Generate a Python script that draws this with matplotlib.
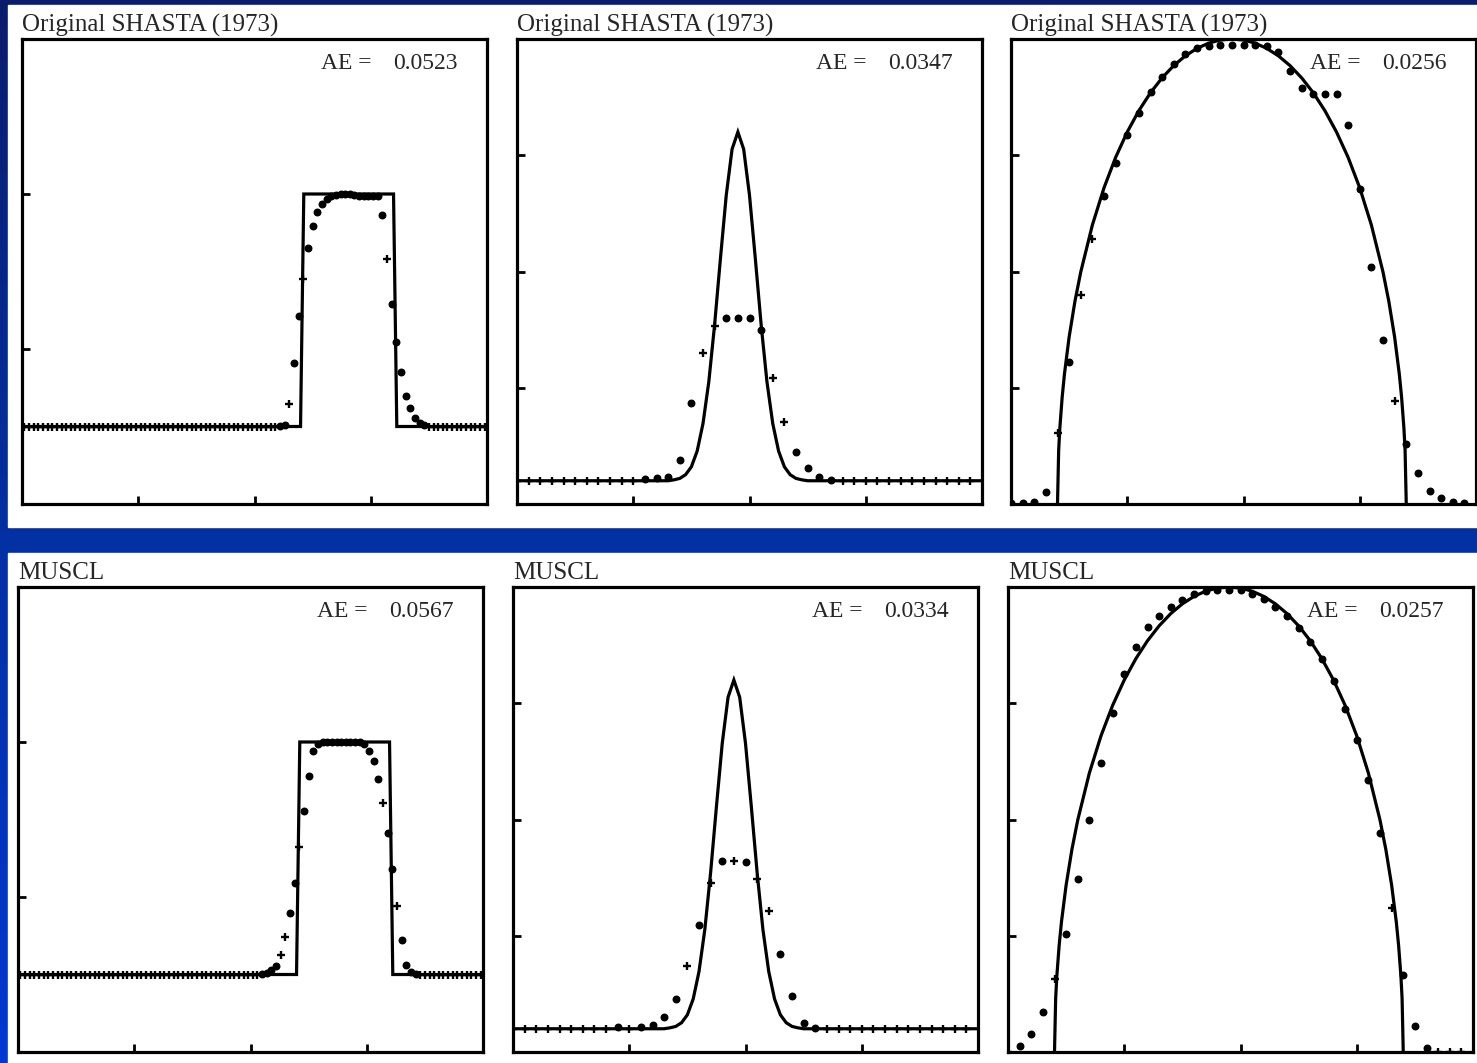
import numpy as np
import matplotlib
matplotlib.use('Agg')
import matplotlib.pyplot as plt
from matplotlib.colors import LinearSegmentedColormap
from matplotlib.patches import Rectangle

plt.rcParams['font.family'] = ['Liberation Serif', 'DejaVu Serif']

# ---------------- data ----------------
row_titles = ['Original SHASTA (1973)', 'MUSCL']
ae_values = [['0.0523', '0.0347', '0.0256'],
             ['0.0567', '0.0334', '0.0257']]

# square wave, 100 cells (x = cell index)
square_exact_x = [-0.5, 59.4, 60.1, 79.4, 80.1, 99.5]
square_exact_y = [0.5, 0.5, 2.0, 2.0, 0.5, 0.5]
shasta_square = [
    0.5, 0.5, 0.5, 0.5, 0.5, 0.5, 0.5, 0.5, 0.5, 0.5,
    0.5, 0.5, 0.5, 0.5, 0.5, 0.5, 0.5, 0.5, 0.5, 0.5,
    0.5, 0.5, 0.5, 0.5, 0.5, 0.5, 0.5, 0.5, 0.5, 0.5,
    0.5, 0.5, 0.5, 0.5, 0.5, 0.5, 0.5, 0.5, 0.5, 0.5,
    0.5, 0.5, 0.5, 0.5, 0.5, 0.5, 0.5, 0.5, 0.5, 0.5,
    0.5, 0.5, 0.5, 0.5, 0.5, 0.505, 0.51, 0.645, 0.912, 1.213,
    1.452, 1.652, 1.794, 1.884, 1.935, 1.97, 1.985, 1.995, 2.0, 2.0,
    2.0, 1.995, 1.99, 1.99, 1.99, 1.99, 1.99, 1.865, 1.583, 1.292,
    1.043, 0.85, 0.70, 0.617, 0.557, 0.521, 0.508, 0.5, 0.5, 0.5,
    0.5, 0.5, 0.5, 0.5, 0.5, 0.5, 0.5, 0.5, 0.5, 0.5]
muscl_square = [
    0.5, 0.5, 0.5, 0.5, 0.5, 0.5, 0.5, 0.5, 0.5, 0.5,
    0.5, 0.5, 0.5, 0.5, 0.5, 0.5, 0.5, 0.5, 0.5, 0.5,
    0.5, 0.5, 0.5, 0.5, 0.5, 0.5, 0.5, 0.5, 0.5, 0.5,
    0.5, 0.5, 0.5, 0.5, 0.5, 0.5, 0.5, 0.5, 0.5, 0.5,
    0.5, 0.5, 0.5, 0.5, 0.5, 0.5, 0.5, 0.5, 0.5, 0.5,
    0.5, 0.5, 0.503, 0.51, 0.528, 0.555, 0.628, 0.741, 0.897, 1.091,
    1.321, 1.556, 1.779, 1.94, 1.99, 2.0, 2.0, 2.0, 2.0, 2.0,
    2.0, 2.0, 2.0, 2.0, 1.985, 1.94, 1.876, 1.763, 1.607, 1.41,
    1.18, 0.942, 0.724, 0.561, 0.517, 0.505, 0.5, 0.5, 0.5, 0.5,
    0.5, 0.5, 0.5, 0.5, 0.5, 0.5, 0.5, 0.5, 0.5, 0.5]
shasta_square_plus = [57, 60, 78]
muscl_square_plus = [56, 57, 60, 78, 81]

# smooth pulse, 40 cells
pulse_exact_x = [0, 13, 13.5, 14, 14.5, 15, 15.5, 16, 16.5, 17, 17.5, 18, 18.5, 19,
                 19.5, 20, 20.5, 21, 21.5, 22, 22.5, 23, 23.5, 24, 24.5, 25, 40]
pulse_exact_y = [0.05, 0.05, 0.052, 0.055, 0.063, 0.08, 0.114, 0.173, 0.263, 0.386,
                 0.528, 0.664, 0.763, 0.8, 0.763, 0.664, 0.528, 0.386, 0.263, 0.173,
                 0.114, 0.08, 0.063, 0.055, 0.052, 0.05, 0.05]
shasta_pulse = [
    0.05, 0.05, 0.05, 0.05, 0.05, 0.05, 0.05, 0.05, 0.05, 0.05,
    0.05, 0.053, 0.055, 0.057, 0.095, 0.217, 0.324, 0.383, 0.399, 0.399,
    0.399, 0.374, 0.272, 0.177, 0.112, 0.077, 0.059, 0.052, 0.05, 0.05,
    0.05, 0.05, 0.05, 0.05, 0.05, 0.05, 0.05, 0.05, 0.05, 0.05]
muscl_pulse = [
    0.05, 0.05, 0.05, 0.05, 0.05, 0.05, 0.05, 0.05, 0.05, 0.053,
    0.05, 0.053, 0.058, 0.075, 0.115, 0.184, 0.273, 0.363, 0.411, 0.411,
    0.409, 0.373, 0.303, 0.21, 0.12, 0.062, 0.051, 0.05, 0.05, 0.05,
    0.05, 0.05, 0.05, 0.05, 0.05, 0.05, 0.05, 0.05, 0.05, 0.05]
shasta_pulse_plus = [16, 17, 22, 23]
muscl_pulse_plus = [15, 17, 19, 21, 22]

# half ellipse, 40 cells
ellipse_exact_x = [4, 4.1, 4.2, 4.4, 4.6, 5, 5.5, 6, 7, 8, 9, 10, 11, 12, 13, 14, 15,
                   16, 17, 18, 19, 20, 21, 22, 23, 24, 25, 26, 27, 28, 29, 30, 31,
                   32, 32.5, 33, 33.4, 33.6, 33.8, 33.9, 34]
ellipse_exact_y = [0, 0.1153, 0.1628, 0.2294, 0.28, 0.359, 0.4359, 0.4989, 0.6,
                   0.6799, 0.7454, 0.8, 0.8459, 0.8844, 0.9165, 0.9428, 0.9638,
                   0.9798, 0.9911, 0.9978, 1.0, 0.9978, 0.9911, 0.9798, 0.9638,
                   0.9428, 0.9165, 0.8844, 0.8459, 0.8, 0.7454, 0.6799, 0.6,
                   0.4989, 0.4359, 0.359, 0.28, 0.2294, 0.1628, 0.1153, 0]
shasta_ellipse = [
    0.003, 0.003, 0.004, 0.026, 0.152, 0.305, 0.449, 0.569, 0.662, 0.734,
    0.794, 0.84, 0.886, 0.919, 0.947, 0.968, 0.98, 0.985, 0.987, 0.987,
    0.987, 0.987, 0.985, 0.973, 0.932, 0.895, 0.882, 0.882, 0.882, 0.815,
    0.678, 0.51, 0.352, 0.221, 0.129, 0.066, 0.029, 0.012, 0.005, 0.002]
muscl_ellipse = [
    0.0, 0.013, 0.038, 0.085, 0.157, 0.254, 0.372, 0.499, 0.622, 0.728,
    0.813, 0.872, 0.913, 0.938, 0.958, 0.972, 0.986, 0.991, 0.994, 0.994,
    0.994, 0.986, 0.974, 0.958, 0.937, 0.912, 0.882, 0.845, 0.797, 0.738,
    0.67, 0.585, 0.47, 0.31, 0.165, 0.056, 0.008, 0.0, 0.0, 0.0]
shasta_ellipse_plus = [4, 6, 7, 33]
muscl_ellipse_plus = [4, 33]

# ---------------- layout ----------------
W, H = 1477, 1063
fig = plt.figure(figsize=(W / 100, H / 100), dpi=100)

# blue slide background with two white bands
bg = fig.add_axes([0, 0, 1, 1])
cmap = LinearSegmentedColormap.from_list('slide', ['#0a1d6b', '#0430a2', '#0338d0'])
bg.imshow(np.linspace(0, 1, 256).reshape(-1, 1), aspect='auto', cmap=cmap,
          extent=[0, W, H, 0])
bg.add_patch(Rectangle((8, 5), W - 8, 522, color='white'))
bg.add_patch(Rectangle((8, 553), W - 8, H - 553, color='white'))
bg.set_xlim(0, W)
bg.set_ylim(H, 0)
bg.axis('off')


def px_axes(left, top, width, height):
    return fig.add_axes([left / W, (H - top - height) / H, width / W, height / H])


def setup(ax, xlim, ylim, xticks, yticks):
    ax.set_xlim(xlim)
    ax.set_ylim(ylim)
    ax.set_xticks(xticks)
    ax.set_yticks(yticks)
    ax.tick_params(direction='in', length=6, width=2, labelbottom=False,
                   labelleft=False, top=False, right=False)
    for s in ax.spines.values():
        s.set_linewidth(2.3)
    ax.set_facecolor('white')


def draw_points(ax, values, base, plus_idx):
    dx, dy, px, py = [], [], [], []
    for i, v in enumerate(values):
        if i in plus_idx or v == base:
            px.append(i)
            py.append(v)
        else:
            dx.append(i)
            dy.append(v)
    ax.plot(dx, dy, 'o', ms=4.7, color='black', zorder=4)
    ax.plot(px, py, '+', ms=5.5, mew=1.7, color='black', zorder=4)


panels = [
    [(square_exact_x, square_exact_y, shasta_square, 0.5, shasta_square_plus, 'sq'),
     (pulse_exact_x, pulse_exact_y, shasta_pulse, 0.05, shasta_pulse_plus, 'cell'),
     (ellipse_exact_x, ellipse_exact_y, shasta_ellipse, 0.0, shasta_ellipse_plus, 'cell')],
    [(square_exact_x, square_exact_y, muscl_square, 0.5, muscl_square_plus, 'sq'),
     (pulse_exact_x, pulse_exact_y, muscl_pulse, 0.05, muscl_pulse_plus, 'cell'),
     (ellipse_exact_x, ellipse_exact_y, muscl_ellipse, 0.0, muscl_ellipse_plus, 'cell')],
]
row_tops = [39, 587]
row_lefts = [[22, 517, 1011], [18, 513, 1008]]
text_color = '#262626'

for r in range(2):
    for c in range(3):
        ex, ey, vals, base, plus_idx, kind = panels[r][c]
        ax = px_axes(row_lefts[r][c], row_tops[r], 465, 465)
        if kind == 'sq':
            setup(ax, (-0.5, 99.5), (0, 3), [24.5, 49.5, 74.5], [1, 2])
        else:
            setup(ax, (0, 40), (0, 1), [10, 20, 30], [0.25, 0.5, 0.75])
        ax.plot(ex, ey, color='black', lw=2.3, zorder=3, solid_joinstyle='miter')
        draw_points(ax, vals, base, plus_idx)
        ax.annotate(row_titles[r], xy=(0, 1), xycoords='axes fraction',
                    xytext=(0, 5.5), textcoords='offset points',
                    ha='left', va='baseline', fontsize=18, color=text_color)
        ax.text(0.642, 0.947, 'AE =', transform=ax.transAxes, ha='left',
                va='center', fontsize=17, color=text_color, zorder=5)
        ax.text(0.798, 0.947, ae_values[r][c], transform=ax.transAxes, ha='left',
                va='center', fontsize=17, color=text_color, zorder=5)

fig.savefig('out.png', dpi=100)
plt.close(fig)
